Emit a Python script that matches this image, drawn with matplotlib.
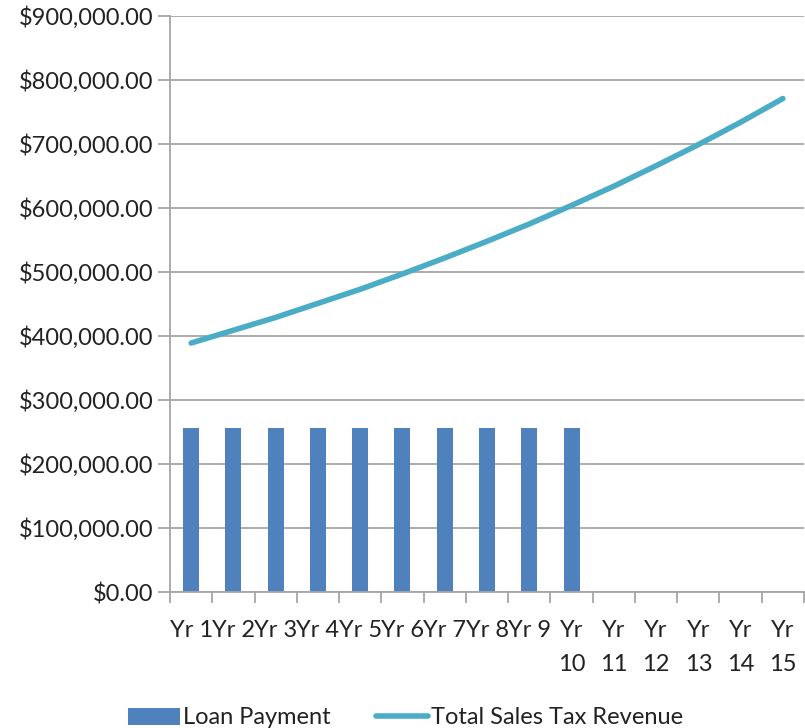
import matplotlib
matplotlib.use('Agg')
from matplotlib import pyplot as plt
from matplotlib.ticker import FuncFormatter, FixedLocator
import numpy as np

years = ['Yr 1', 'Yr 2', 'Yr 3', 'Yr 4', 'Yr 5', 'Yr 6', 'Yr 7', 'Yr 8', 'Yr 9',
         'Yr\n10', 'Yr\n11', 'Yr\n12', 'Yr\n13', 'Yr\n14', 'Yr\n15']
loan_payment = [256000] * 10  # only the first 10 years carry a payment
sales_tax_revenue = [389000, 409000, 429000, 451000, 473000, 497000, 522000, 548000,
                     575000, 604000, 634000, 666000, 699000, 734000, 771000]

plt.rcParams['font.family'] = ['Lato', 'DejaVu Sans']

fig = plt.figure(figsize=(8.05, 7.28), dpi=100)
ax = fig.add_axes([170 / 805, 1 - 592 / 728, 634 / 805, (592 - 16) / 728])

x = np.arange(len(years))
bars = ax.bar(x[:len(loan_payment)], loan_payment, width=0.38, color='#4F81BD',
              label='Loan Payment', zorder=2)
line, = ax.plot(x, sales_tax_revenue, color='#4BACC6', linewidth=4, solid_capstyle='round',
                label='Total Sales Tax Revenue', zorder=3)

ax.set_xlim(-0.5, len(years) - 0.5)
ax.set_ylim(0, 900000)
ax.set_yticks(np.arange(0, 900001, 100000))
ax.yaxis.set_major_formatter(FuncFormatter(lambda v, p: '${:,.2f}'.format(v)))
ax.grid(axis='y', color='#A6A6A6', linewidth=1.3, zorder=0)

# boundaries get tick marks, centers get the labels
ax.xaxis.set_major_locator(FixedLocator(np.arange(-0.5, len(years), 1.0)))
ax.xaxis.set_major_formatter(FuncFormatter(lambda v, p: ''))
ax.xaxis.set_minor_locator(FixedLocator(x))
ax.set_xticklabels(years, minor=True, va='top', ha='center', linespacing=1.75)
ax.tick_params(axis='x', which='minor', length=0, pad=20, labelsize=17, colors='#222222')
ax.tick_params(axis='x', which='major', length=8, width=1.3, color='#A6A6A6')
ax.tick_params(axis='y', length=9, width=1.3, color='#A6A6A6', labelsize=17, labelcolor='#222222', pad=3)

for s in ['top', 'right']:
    ax.spines[s].set_visible(False)
for s in ['left', 'bottom']:
    ax.spines[s].set_color('#A6A6A6')
    ax.spines[s].set_linewidth(1.3)

fig.legend(handles=[bars, line], loc='center', bbox_to_anchor=(0.504, 1 - 718 / 728), ncol=2,
           frameon=False, fontsize=17, handlelength=2.2, handletextpad=0.15, columnspacing=1.9,
           labelcolor='#222222')

fig.savefig('out.png', dpi=100)
